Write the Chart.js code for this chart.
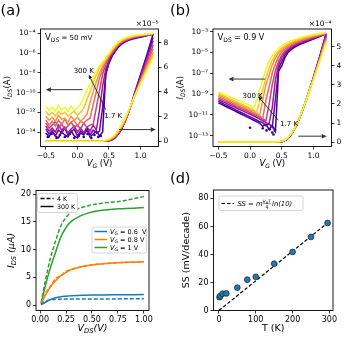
<!DOCTYPE html>
<html><head><meta charset="utf-8">
<script src="https://cdn.jsdelivr.net/npm/chart.js@4.4.0/dist/chart.umd.min.js"></script>
<style>
html,body{margin:0;padding:0;background:#fff;}
#wrap{position:relative;width:347px;height:351px;overflow:hidden;background:#fff;}
canvas{position:absolute;left:0;top:0;width:347px;height:351px;}
</style></head><body>
<div id="wrap">
<canvas id="ca" width="347" height="351"></canvas>
<canvas id="cb" width="347" height="351"></canvas>
<canvas id="cc" width="347" height="351"></canvas>
<canvas id="cd" width="347" height="351"></canvas>
</div>
<script>
// ================= DATA =================
// (a),(b) gate-voltage grids (V)
const vgLog = [-0.5,-0.45,-0.4,-0.35,-0.3,-0.25,-0.2,-0.15,-0.1,-0.05,0,0.05,0.1,0.15,0.2,0.25,0.3,0.35,0.4,0.45,0.5,0.55,0.6,0.65,0.7,0.75,0.8,0.85,0.9,0.95,1.0,1.05,1.1,1.15,1.2];
const vgLin = [-0.5,0.3,0.4,0.45,0.5,0.55,0.6,0.65,0.7,0.75,0.8,0.85,0.9,0.95,1.0,1.05,1.1,1.15,1.2];
const temps = ['300 K','250 K','200 K','150 K','100 K','77 K','20 K','1.7 K'];

// (a) V_DS = 50 mV : log10(I_DS / A) on vgLog
const aLogT300 = [-11.4,-11.8,-11.5,-11.9,-11.3,-11.8,-11.5,-11.9,-11.4,-11.8,-11.5,-11.2,-10.5,-9.8,-9.1,-8.4,-7.8,-7.3,-6.9,-6.5,-6.0,-5.55,-5.15,-4.85,-4.62,-4.47,-4.36,-4.28,-4.21,-4.16,-4.12,-4.09,-4.06,-4.03,-4.0];
const aLogT250 = [-11.9,-12.3,-12.0,-12.4,-11.9,-12.2,-12.0,-12.4,-12.1,-11.9,-12.3,-12.0,-11.6,-10.7,-9.9,-9.0,-8.2,-7.5,-7.0,-6.6,-6.1,-5.65,-5.25,-4.93,-4.7,-4.53,-4.41,-4.32,-4.25,-4.2,-4.15,-4.11,-4.08,-4.05,-4.02];
const aLogT200 = [-12.4,-12.8,-12.5,-12.9,-12.3,-12.7,-12.6,-13.0,-12.4,-12.8,-12.5,-12.9,-12.6,-12.2,-11.0,-9.9,-8.9,-8.0,-7.3,-6.75,-6.2,-5.75,-5.35,-5.0,-4.77,-4.6,-4.47,-4.37,-4.29,-4.23,-4.18,-4.14,-4.1,-4.07,-4.03];
const aLogT150 = [-12.8,-13.3,-12.9,-13.4,-12.8,-13.2,-12.7,-13.3,-13.0,-12.8,-13.4,-12.9,-13.1,-12.8,-12.6,-11.2,-9.9,-8.5,-7.6,-6.9,-6.3,-5.85,-5.45,-5.08,-4.83,-4.66,-4.53,-4.42,-4.34,-4.27,-4.22,-4.17,-4.13,-4.09,-4.05];
const aLogT100 = [-13.1,-13.6,-13.3,-12.9,-13.6,-13.2,-13.7,-13.4,-13.0,-13.5,-13.3,-13.7,-13.1,-13.5,-13.3,-13.2,-11.5,-9.8,-8.1,-7.1,-6.45,-5.95,-5.55,-5.17,-4.9,-4.72,-4.58,-4.47,-4.38,-4.31,-4.25,-4.2,-4.15,-4.1,-4.06];
const aLogT77  = [-13.4,-13.9,-13.6,-14.0,-13.3,-13.8,-13.5,-14.1,-13.7,-13.4,-14.0,-13.6,-14.1,-13.5,-13.9,-13.3,-13.8,-11.8,-9.3,-7.6,-6.7,-6.1,-5.65,-5.25,-4.97,-4.77,-4.63,-4.52,-4.43,-4.35,-4.28,-4.22,-4.16,-4.11,-4.07];
const aLogT20  = [-13.7,-14.2,-13.9,-14.4,-13.8,-14.1,-13.6,-14.3,-14.0,-13.7,-14.4,-13.9,-14.2,-13.6,-14.3,-13.8,-14.1,-13.9,-11.5,-8.2,-6.9,-6.2,-5.72,-5.3,-5.01,-4.8,-4.66,-4.55,-4.46,-4.39,-4.32,-4.25,-4.18,-4.12,-4.07];
const aLogT1p7 = [-14.1,-14.5,-13.9,-14.4,-14.6,-14.0,-14.3,-14.5,-13.9,-14.4,-14.6,-14.1,-14.3,-13.8,-14.5,-14.2,-13.9,-14.4,-14.0,-8.0,-7.0,-6.3,-5.8,-5.38,-5.08,-4.87,-4.72,-4.61,-4.52,-4.44,-4.37,-4.3,-4.22,-4.15,-4.08];
// (a) linear I_DS (x1e-5 A) on vgLin
const aLinT300 = [0,0,0.03,0.08,0.18,0.35,0.6,0.95,1.35,1.85,2.4,3.0,3.6,4.15,4.7,5.2,5.75,6.25,6.75];
const aLinT250 = [0,0,0.02,0.06,0.15,0.3,0.52,0.85,1.25,1.75,2.33,2.95,3.57,4.15,4.73,5.27,5.85,6.4,6.95];
const aLinT200 = [0,0,0.01,0.05,0.12,0.26,0.47,0.78,1.18,1.68,2.28,2.92,3.57,4.2,4.82,5.4,6.0,6.6,7.2];
const aLinT150 = [0,0,0.01,0.04,0.1,0.22,0.42,0.72,1.12,1.63,2.24,2.9,3.6,4.26,4.92,5.55,6.2,6.85,7.5];
const aLinT100 = [0,0,0,0.03,0.08,0.19,0.38,0.67,1.08,1.6,2.22,2.92,3.65,4.35,5.05,5.73,6.42,7.1,7.8];
const aLinT77  = [0,0,0,0.02,0.06,0.16,0.35,0.63,1.04,1.57,2.21,2.93,3.7,4.45,5.2,5.93,6.67,7.42,8.15];
const aLinT20  = [0,0,0,0.01,0.05,0.14,0.32,0.6,1.02,1.56,2.2,2.94,3.75,4.52,5.3,6.06,6.83,7.63,8.42];
const aLinT1p7 = [0,0,0,0.01,0.04,0.12,0.3,0.6,1.0,1.55,2.2,2.95,3.8,4.6,5.4,6.2,7.0,7.85,8.7];
// (a) scattered noise-floor points, 1.7 K
const aDotsV   = [-0.47,-0.41,-0.33,-0.28,-0.2,-0.12,-0.05,0.02,0.1,0.16,0.22,0.27,0.33,0.37];
const aDotsLog = [-14.5,-14.2,-14.6,-14.3,-14.5,-14.2,-14.6,-14.4,-14.5,-14.2,-14.6,-14.3,-14.5,-14.4];

// (b) V_DS = 0.9 V : log10(I_DS / A) on vgLog
const bLogT300 = [-8.8,-8.93,-9.06,-9.19,-9.32,-9.45,-9.58,-9.71,-9.84,-9.97,-10.15,-10.4,-9.7,-8.65,-7.55,-6.6,-5.85,-5.3,-4.95,-4.6,-4.35,-4.15,-4.0,-3.87,-3.75,-3.64,-3.55,-3.47,-3.4,-3.34,-3.28,-3.23,-3.18,-3.14,-3.1];
const bLogT250 = [-8.95,-9.09,-9.23,-9.37,-9.51,-9.65,-9.79,-9.93,-10.07,-10.21,-10.36,-10.52,-10.75,-9.8,-8.6,-7.45,-6.5,-5.75,-5.22,-4.85,-4.55,-4.33,-4.15,-4.0,-3.87,-3.76,-3.66,-3.57,-3.49,-3.42,-3.35,-3.29,-3.23,-3.17,-3.12];
const bLogT200 = [-9.1,-9.24,-9.38,-9.52,-9.66,-9.8,-9.94,-10.08,-10.22,-10.36,-10.5,-10.64,-10.8,-11.05,-9.6,-8.1,-7.2,-6.2,-5.55,-5.05,-4.72,-4.48,-4.29,-4.13,-3.99,-3.87,-3.77,-3.67,-3.58,-3.5,-3.42,-3.35,-3.28,-3.21,-3.14];
const bLogT150 = [-9.25,-9.39,-9.53,-9.67,-9.81,-9.95,-10.09,-10.23,-10.37,-10.51,-10.65,-10.79,-10.93,-11.1,-11.35,-9.6,-8.3,-7.0,-6.1,-5.4,-4.95,-4.66,-4.44,-4.26,-4.1,-3.97,-3.86,-3.76,-3.66,-3.57,-3.49,-3.41,-3.33,-3.25,-3.16];
const bLogT100 = [-9.4,-9.54,-9.68,-9.82,-9.96,-10.1,-10.24,-10.38,-10.52,-10.66,-10.8,-10.94,-11.08,-11.22,-11.38,-11.6,-10.0,-8.1,-6.75,-5.85,-5.25,-4.87,-4.6,-4.39,-4.22,-4.08,-3.96,-3.85,-3.75,-3.65,-3.56,-3.47,-3.38,-3.28,-3.17];
const bLogT77  = [-9.55,-9.69,-9.83,-9.97,-10.11,-10.25,-10.39,-10.53,-10.67,-10.81,-10.95,-11.09,-11.23,-11.4,-11.55,-11.75,-11.85,-10.3,-7.6,-6.2,-5.5,-5.05,-4.74,-4.5,-4.32,-4.17,-4.04,-3.92,-3.82,-3.72,-3.62,-3.52,-3.42,-3.31,-3.18];
const bLogT20  = [-9.7,-9.85,-10.0,-10.15,-10.3,-10.45,-10.6,-10.75,-10.9,-11.05,-11.2,-11.35,-11.5,-11.65,-11.75,-12.05,-11.85,-12.2,-9.5,-6.5,-5.9,-5.25,-4.87,-4.6,-4.41,-4.25,-4.12,-4.0,-3.89,-3.78,-3.67,-3.56,-3.45,-3.33,-3.19];
const bLogT1p7 = [-9.85,-10.0,-10.15,-10.3,-10.45,-10.6,-10.75,-10.9,-11.05,-11.2,-11.35,-11.5,-11.65,-11.8,-12.1,-11.9,-12.4,-12.0,-12.6,-6.8,-6.3,-5.5,-5.0,-4.7,-4.5,-4.33,-4.2,-4.07,-3.95,-3.82,-3.7,-3.58,-3.46,-3.33,-3.2];
// (b) linear I_DS (x1e-4 A) on vgLin
const bLinT300 = [0,0,0.01,0.02,0.05,0.12,0.25,0.45,0.72,1.05,1.45,1.88,2.33,2.8,3.27,3.75,4.23,4.7,5.2];
const bLinT250 = [0,0,0.01,0.02,0.05,0.11,0.24,0.44,0.71,1.04,1.44,1.88,2.34,2.81,3.29,3.78,4.27,4.77,5.27];
const bLinT200 = [0,0,0.01,0.01,0.04,0.11,0.23,0.43,0.7,1.04,1.44,1.88,2.34,2.82,3.31,3.81,4.31,4.84,5.35];
const bLinT150 = [0,0,0,0.01,0.04,0.1,0.23,0.42,0.7,1.03,1.43,1.88,2.34,2.83,3.33,3.84,4.35,4.9,5.42];
const bLinT100 = [0,0,0,0.01,0.03,0.1,0.22,0.42,0.69,1.03,1.43,1.87,2.35,2.84,3.35,3.87,4.39,4.96,5.5];
const bLinT77  = [0,0,0,0.01,0.03,0.09,0.21,0.41,0.69,1.03,1.43,1.87,2.35,2.85,3.37,3.9,4.43,5.02,5.57];
const bLinT20  = [0,0,0,0,0.02,0.09,0.21,0.41,0.68,1.02,1.42,1.87,2.35,2.86,3.38,3.92,4.47,5.06,5.64];
const bLinT1p7 = [0,0,0,0,0.02,0.08,0.2,0.4,0.68,1.02,1.42,1.87,2.35,2.87,3.4,3.94,4.5,5.1,5.7];
const bDotsV   = [0.0,0.2,0.26,0.31,0.35,0.37,0.39];
const bDotsLog = [-12.25,-12.3,-12.5,-12.4,-12.7,-12.9,-12.5];

// (c) output characteristics, I_DS (uA) vs V_DS (V)
const vds = [0.01,0.05,0.1,0.15,0.2,0.25,0.3,0.4,0.5,0.6,0.7,0.8,0.9,1.0];
const cVg06_4K   = [0.1,0.7,0.95,1.02,1.05,1.07,1.08,1.09,1.1,1.1,1.1,1.12,1.12,1.13];
const cVg06_300K = [0.05,0.5,1.0,1.3,1.5,1.6,1.7,1.75,1.8,1.82,1.84,1.86,1.88,1.9];
const cVg08_4K   = [0.2,2.1,3.4,4.8,5.3,6.1,6.4,6.95,7.25,7.45,7.6,7.7,7.75,7.8];
const cVg08_300K = [0.2,1.8,3.3,4.4,5.3,5.9,6.4,6.9,7.25,7.45,7.6,7.7,7.75,7.8];
const cVg10_4K   = [0.4,4.3,8.5,11.6,14.3,15.8,16.8,17.6,18.1,18.4,18.6,18.8,19.2,19.6];
const cVg10_300K = [0.3,3.4,6.8,9.6,12.3,14.0,15.1,16.2,16.8,17.1,17.3,17.4,17.5,17.6];

// (d) subthreshold swing vs temperature
const tK   = [1.7,4.2,10,20,50,77,100,150,200,250,295];
const ssMV = [9.5,10.5,12,12.2,16.3,22,24,33.4,41.8,52.5,62.5];
const fitT  = [0,295];
const fitSS = [0,62.5];

// tick values
const aLogTickExp = [-14,-12,-10,-8,-6,-4];
const bLogTickExp = [-13,-11,-9,-7,-5,-3];
const vgTicks = [-0.5,0,0.5,1.0];
const aLinTicks = [0,2,4,6,8];
const bLinTicks = [0,1,2,3,4,5];
const cXTicks = [0,0.25,0.5,0.75,1.0];
const cYTicks = [0,5,10,15,20];
const dXTicks = [0,100,200,300];
const dYTicks = [0,20,40,60,80];

// ================= STYLE / HELPERS =================
const FONT = 'DejaVu Sans';
Chart.defaults.font.family = FONT;
Chart.defaults.color = '#000';
Chart.defaults.animation = false;
const tempColors = ['#f0f921','#fdc328','#f89441','#e56b5d','#c5407e','#9c179e','#6a00a8','#3a049a'];
const SUP = {'-':'\u207B','0':'\u2070','1':'\u00B9','2':'\u00B2','3':'\u00B3','4':'\u2074','5':'\u2075','6':'\u2076','7':'\u2077','8':'\u2078','9':'\u2079'};
const pow10Label = e => '10' + String(e).split('').map(c => SUP[c]).join('');
const mns = s => String(s).replace('-', '\u2212');
const W = 347, H = 351, XH = 25;

function fixer(size) {
  return s => {
    if (s.isHorizontal()) s.height = size; else s.width = size;
    s.paddingLeft = s.paddingRight = s.paddingTop = s.paddingBottom = 0;
  };
}
// axis sizes: left width lw, right width rw (0 = none)
function padFor(b, lw, rw) {
  return { left: b.l - lw, right: W - b.r - rw, top: b.t, bottom: H - b.b - XH };
}
const gridOpt = () => ({ drawOnChartArea:false, drawTicks:true, tickLength:3, tickWidth:0.8, tickColor:'#000', color:'#000', lineWidth:0.8 });
function linAxis(pos, min, max, ticks, fmt, size, axSize) {
  return { type:'linear', position:pos, min, max, bounds:'data',
    afterBuildTicks: s => { s.ticks = ticks.map(v => ({value:v})); },
    afterFit: fixer(axSize),
    ticks: { callback: v => fmt(v), font:{size}, color:'#000', padding:2, maxRotation:0, autoSkip:false },
    grid: gridOpt(), border:{display:false} };
}
function logAxis(pos, minE, maxE, exps, size, axSize) {
  return { type:'logarithmic', position:pos, min:10**minE, max:10**maxE, bounds:'data',
    afterBuildTicks: s => { s.ticks = exps.map(e => ({value:10**e})); },
    afterFit: fixer(axSize),
    ticks: { callback: (v, i) => pow10Label(exps[i]), font:{size}, color:'#000', padding:2, autoSkip:false },
    grid: gridOpt(), border:{display:false} };
}
function rich(ctx, parts, x, y, o = {}) {
  const align = o.align || 'left';
  ctx.save();
  ctx.translate(x, y);
  if (o.rot) ctx.rotate(o.rot);
  ctx.fillStyle = o.color || '#000';
  ctx.textBaseline = 'alphabetic';
  const fnt = p => `${p.i ? 'italic ' : ''}${p.s}px "${FONT}"`;
  let w = 0;
  const ws = parts.map(p => { ctx.font = fnt(p); const m = ctx.measureText(p.t).width; w += m; return m; });
  let cx = align === 'center' ? -w / 2 : align === 'right' ? -w : 0;
  parts.forEach((p, k) => { ctx.font = fnt(p); ctx.fillText(p.t, cx, p.dy || 0); cx += ws[k]; });
  ctx.restore();
  return w;
}
function arrow(ctx, x1, y1, x2, y2, o = {}) {
  const color = o.color || '#333', head = o.head || 5, hw = o.hw || 2.3;
  const a = Math.atan2(y2 - y1, x2 - x1);
  const bx = x2 - head * Math.cos(a), by = y2 - head * Math.sin(a);
  ctx.save();
  ctx.strokeStyle = color; ctx.fillStyle = color; ctx.lineWidth = o.lw || 1;
  ctx.beginPath(); ctx.moveTo(x1, y1); ctx.lineTo(bx, by); ctx.stroke();
  ctx.beginPath(); ctx.moveTo(x2, y2);
  ctx.lineTo(bx + hw * Math.sin(a), by - hw * Math.cos(a));
  ctx.lineTo(bx - hw * Math.sin(a), by + hw * Math.cos(a));
  ctx.closePath(); ctx.fill();
  ctx.restore();
}
function frame(chart) {
  const { left, top, right, bottom } = chart.chartArea;
  const ctx = chart.ctx;
  ctx.save(); ctx.strokeStyle = '#000'; ctx.lineWidth = 0.9;
  ctx.strokeRect(left, top, right - left, bottom - top); ctx.restore();
}
function legendBox(ctx, x, y, w, h) {
  ctx.save();
  ctx.fillStyle = 'rgba(255,255,255,0.85)'; ctx.strokeStyle = '#cccccc'; ctx.lineWidth = 0.8;
  ctx.beginPath();
  if (ctx.roundRect) ctx.roundRect(x, y, w, h, 2); else ctx.rect(x, y, w, h);
  ctx.fill(); ctx.stroke(); ctx.restore();
}
function seg(ctx, x1, x2, y, color, lw, dash) {
  ctx.save(); ctx.strokeStyle = color; ctx.lineWidth = lw; ctx.setLineDash(dash || []);
  ctx.beginPath(); ctx.moveTo(x1, y); ctx.lineTo(x2, y); ctx.stroke(); ctx.restore();
}
const plug = (id, fn) => ({ id, afterDraw(chart) { const ctx = chart.ctx; ctx.save(); fn(chart, ctx); ctx.restore(); } });
const baseOpts = (b, lw, rw) => ({
  responsive:false, maintainAspectRatio:false, animation:false, events:[],
  layout:{ autoPadding:false, padding: padFor(b, lw, rw) },
  plugins:{ legend:{display:false}, tooltip:{enabled:false}, title:{display:false} }
});

// transfer-panel dataset builder
function transferSets(logSeries, linSeries, dotsV, dotsLog) {
  const sets = [];
  logSeries.forEach((s, k) => sets.push({ label: temps[k], data: s.map((e, i) => ({ x: vgLog[i], y: 10 ** e })), yAxisID:'y',
    borderColor: tempColors[k], borderWidth:1.5, pointRadius:0, tension:0, fill:false }));
  linSeries.forEach((s, k) => sets.push({ label: temps[k], data: s.map((v, i) => ({ x: vgLin[i], y: v })), yAxisID:'y2',
    borderColor: tempColors[k], borderWidth:1.5, pointRadius:0, cubicInterpolationMode:'monotone', fill:false }));
  sets.push({ label:'noise', data: dotsV.map((v, i) => ({ x: v, y: 10 ** dotsLog[i] })), yAxisID:'y', showLine:false,
    pointRadius:1.3, pointBackgroundColor:'#2a0593', pointBorderWidth:0 });
  return sets;
}

// ================= (a) =================
const boxA = { l:40.5, r:158.5, t:29, b:146.5 };
new Chart(document.getElementById('ca'), {
  type:'line',
  data:{ datasets: transferSets(
    [aLogT300,aLogT250,aLogT200,aLogT150,aLogT100,aLogT77,aLogT20,aLogT1p7],
    [aLinT300,aLinT250,aLinT200,aLinT150,aLinT100,aLinT77,aLinT20,aLinT1p7], aDotsV, aDotsLog) },
  options: Object.assign(baseOpts(boxA, 40, 15), {
    scales:{
      x: linAxis('bottom', -0.585, 1.285, vgTicks, v => mns(v.toFixed(1)), 7.5, XH),
      y: logAxis('left', -15.47, -3.54, aLogTickExp, 7.5, 40),
      y2: linAxis('right', -0.42, 9.1, aLinTicks, v => String(v), 7.5, 15)
    }
  }),
  plugins:[ plug('annA', (c, ctx) => {
    frame(c);
    const sx = v => c.scales.x.getPixelForValue(v), sl = e => c.scales.y.getPixelForValue(10 ** e), sr = v => c.scales.y2.getPixelForValue(v);
    const ca = c.chartArea;
    rich(ctx, [{t:'(a)', s:14.5}], 0.5, 14.8);
    rich(ctx, [{t:'V', s:8.5},{t:'DS', s:6, dy:2},{t:' = 50 mV', s:7}], ca.left + 4.5, ca.top + 11);
    rich(ctx, [{t:'\u00D710\u207B\u2075', s:7.5}], ca.right, ca.top - 3, {align:'right'});
    rich(ctx, [{t:'I', s:8.5, i:1},{t:'DS', s:6, i:1, dy:2},{t:'(A)', s:8.5}], 10, (ca.top + ca.bottom) / 2, {align:'center', rot:-Math.PI/2});
    rich(ctx, [{t:'V', s:8.5, i:1},{t:'G', s:6, i:1, dy:2},{t:' (V)', s:8.5}], (ca.left + ca.right) / 2, 166, {align:'center'});
    arrow(ctx, sx(0.08), sl(-9.7), sx(-0.5), sl(-9.7));
    arrow(ctx, sx(0.66), sr(0.95), sx(1.24), sr(0.95));
    arrow(ctx, sx(0.45), sl(-11.73), sx(0.18), sl(-8.18), {color:'#111', lw:0.8, head:4, hw:1.8});
    rich(ctx, [{t:'300 K', s:7}], sx(0.1), sl(-8.0), {align:'center'});
    rich(ctx, [{t:'1.7 K', s:7}], sx(0.567), sl(-12.53), {align:'center'});
  }) ]
});

// ================= (b) =================
const boxB = { l:213, r:331.5, t:29, b:146.5 };
new Chart(document.getElementById('cb'), {
  type:'line',
  data:{ datasets: transferSets(
    [bLogT300,bLogT250,bLogT200,bLogT150,bLogT100,bLogT77,bLogT20,bLogT1p7],
    [bLinT300,bLinT250,bLinT200,bLinT150,bLinT100,bLinT77,bLinT20,bLinT1p7], bDotsV, bDotsLog) },
  options: Object.assign(baseOpts(boxB, 40, 15.5), {
    scales:{
      x: linAxis('bottom', -0.585, 1.285, vgTicks, v => mns(v.toFixed(1)), 7.5, XH),
      y: logAxis('left', -14.05, -2.74, bLogTickExp, 7.5, 40),
      y2: linAxis('right', -0.23, 5.92, bLinTicks, v => String(v), 7.5, 15.5)
    }
  }),
  plugins:[ plug('annB', (c, ctx) => {
    frame(c);
    const sx = v => c.scales.x.getPixelForValue(v), sl = e => c.scales.y.getPixelForValue(10 ** e), sr = v => c.scales.y2.getPixelForValue(v);
    const ca = c.chartArea;
    rich(ctx, [{t:'(b)', s:14.5}], 170, 14.8);
    rich(ctx, [{t:'V', s:8.5},{t:'DS', s:6, dy:2},{t:' = 0.9 V', s:8}], ca.left + 4.5, ca.top + 11);
    rich(ctx, [{t:'\u00D710\u207B\u2074', s:7.5}], ca.right, ca.top - 3, {align:'right'});
    rich(ctx, [{t:'I', s:8.5, i:1},{t:'DS', s:6, i:1, dy:2},{t:'(A)', s:8.5}], 183, (ca.top + ca.bottom) / 2, {align:'center', rot:-Math.PI/2});
    rich(ctx, [{t:'V', s:8.5, i:1},{t:'G', s:6, i:1, dy:2},{t:' (V)', s:8.5}], (ca.left + ca.right) / 2, 166, {align:'center'});
    arrow(ctx, sx(0.237), sl(-7.56), sx(-0.34), sl(-7.56));
    arrow(ctx, sx(0.76), sr(0.31), sx(1.21), sr(0.31));
    arrow(ctx, sx(0.446), sl(-11.53), sx(0.13), sl(-9.23), {color:'#111', lw:0.8, head:4, hw:1.8});
    rich(ctx, [{t:'300 K', s:7}], sx(0.04), sl(-9.39), {align:'center'});
    rich(ctx, [{t:'1.7 K', s:7}], sx(0.615), sl(-12.04), {align:'center'});
  }) ]
});

// ================= (c) =================
const boxC = { l:36, r:149, t:190.5, b:310.5 };
const C_BLUE = '#1f77b4', C_ORANGE = '#ff7f0e', C_GREEN = '#2ca02c';
const cLine = (vals, color, dashed) => ({ data: vals.map((v, i) => ({ x: vds[i], y: v })), borderColor: color, borderWidth:1.5,
  borderDash: dashed ? [4, 2] : [], pointRadius:0, cubicInterpolationMode:'monotone', fill:false });
new Chart(document.getElementById('cc'), {
  type:'line',
  data:{ datasets:[
    cLine(cVg06_300K, C_BLUE, false), cLine(cVg06_4K, C_BLUE, true),
    cLine(cVg08_300K, C_ORANGE, false), cLine(cVg08_4K, C_ORANGE, true),
    cLine(cVg10_300K, C_GREEN, false), cLine(cVg10_4K, C_GREEN, true)
  ] },
  options: Object.assign(baseOpts(boxC, 30, 0), {
    scales:{
      x: linAxis('bottom', -0.0395, 1.0495, cXTicks, v => v.toFixed(2), 8, XH),
      y: linAxis('left', -0.985, 20.685, cYTicks, v => String(v), 8, 30)
    }
  }),
  plugins:[ plug('annC', (c, ctx) => {
    frame(c);
    const ca = c.chartArea;
    rich(ctx, [{t:'(c)', s:14.5}], 0.5, 182.5);
    rich(ctx, [{t:'I', s:9.5, i:1},{t:'DS', s:6.7, i:1, dy:2.3},{t:' (\u03BCA)', s:9.5, i:1}], 14, (ca.top + ca.bottom) / 2, {align:'center', rot:-Math.PI/2});
    rich(ctx, [{t:'V', s:9.5, i:1},{t:'DS', s:6.7, i:1, dy:2.3},{t:'(V)', s:9.5, i:1}], (ca.left + ca.right) / 2, 331, {align:'center'});
    // legend: temperatures
    legendBox(ctx, 37.5, 193.5, 40, 19);
    seg(ctx, 40.5, 53.5, 198.5, '#000', 1.4, [4, 2]);
    seg(ctx, 40.5, 53.5, 206.5, '#000', 1.4);
    rich(ctx, [{t:'4 K', s:6.3}], 57, 200.7);
    rich(ctx, [{t:'300 K', s:6.3}], 57, 208.7);
    // legend: gate voltages
    legendBox(ctx, 92, 227, 54.5, 26);
    const vgRows = [['0.6  V', C_BLUE, 231.5], ['0.8 V', C_ORANGE, 239.5], ['1 V', C_GREEN, 247.5]];
    vgRows.forEach(([t, col, y]) => {
      seg(ctx, 94.5, 107, y, col, 1.5);
      rich(ctx, [{t:'V', s:6.5, i:1},{t:'G', s:4.6, i:1, dy:1.5},{t:' = ' + t, s:6.5}], 110, y + 2.3);
    });
  }) ]
});

// ================= (d) =================
const boxD = { l:213.5, r:333, t:190, b:310.5 };
new Chart(document.getElementById('cd'), {
  type:'line',
  data:{ datasets:[
    { data: tK.map((t, i) => ({ x: t, y: ssMV[i] })), showLine:false, pointRadius:2.9, pointBackgroundColor:'#1f77b4',
      pointBorderColor:'#222', pointBorderWidth:0.7 },
    { data: fitT.map((t, i) => ({ x: t, y: fitSS[i] })), borderColor:'#000', borderWidth:1.2, borderDash:[3.5, 2],
      pointRadius:0, fill:false }
  ] },
  options: Object.assign(baseOpts(boxD, 40, 0), {
    scales:{
      x: linAxis('bottom', -14.75, 309.75, dXTicks, v => String(v), 8, XH),
      y: linAxis('left', 0, 86, dYTicks, v => String(v), 8, 40)
    }
  }),
  plugins:[ plug('annD', (c, ctx) => {
    frame(c);
    const ca = c.chartArea;
    rich(ctx, [{t:'(d)', s:14.5}], 170, 182.5);
    rich(ctx, [{t:'SS (mV/decade)', s:9.5}], 189, (ca.top + ca.bottom) / 2, {align:'center', rot:-Math.PI/2});
    rich(ctx, [{t:'T (K)', s:9.5}], (ca.left + ca.right) / 2, 331, {align:'center'});
    // legend
    legendBox(ctx, 219, 196, 84, 14.5);
    seg(ctx, 221.5, 234, 203.5, '#000', 1.2, [3.5, 2]);
    let x = 237.5;
    x += rich(ctx, [{t:'SS = m', s:6.8, i:1}], x, 206);
    const fx = x + 0.5;
    const wn = rich(ctx, [{t:'k', s:4.6, i:1},{t:'B', s:3.4, i:1, dy:1},{t:'T', s:4.6, i:1}], fx, 202.6);
    ctx.save(); ctx.strokeStyle = '#000'; ctx.lineWidth = 0.4;
    ctx.beginPath(); ctx.moveTo(fx, 203.7); ctx.lineTo(fx + wn, 203.7); ctx.stroke(); ctx.restore();
    rich(ctx, [{t:'q', s:4.6, i:1}], fx + wn / 2, 208.2, {align:'center'});
    rich(ctx, [{t:'ln(10)', s:6.8, i:1}], fx + wn + 1.2, 206);
  }) ]
});
</script>
</body></html>
